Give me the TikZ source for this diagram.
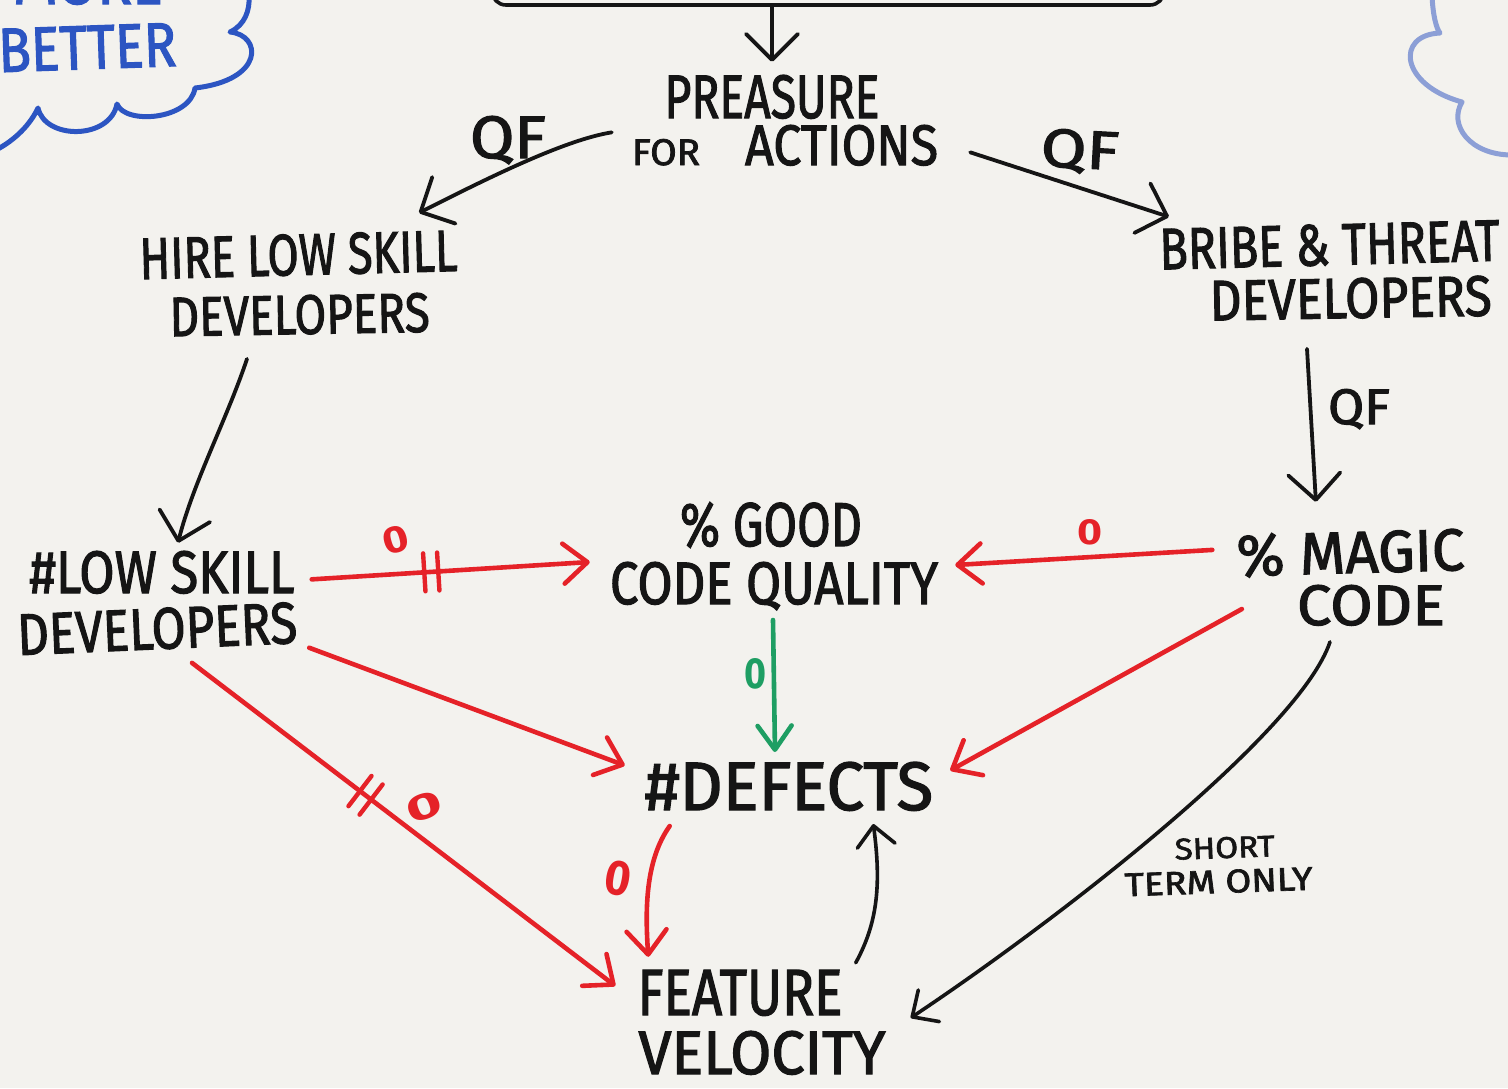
\documentclass[tikz,border=0pt]{standalone}
\usepackage{fontspec}
\setmainfont{Fira Sans}
\newfontfamily\markerfont{Fira Sans}[FakeBold=2]
\usepackage{graphicx}
\usetikzlibrary{arrows.meta,calc,decorations.markings}
\definecolor{board}{HTML}{F3F2EE}
\definecolor{ink}{HTML}{151515}
\definecolor{marker}{HTML}{E52228}
\definecolor{mint}{HTML}{1E9E63}
\definecolor{cloudA}{HTML}{2C55C2}
\definecolor{cloudB}{HTML}{8C9FD6}
% handwritten-style label: text stretched to a given width and cap height
\newcommand{\hw}[3]{\resizebox{#1pt}{#2pt}{#3}}
\begin{document}
\begin{tikzpicture}[x=1pt,y=-1pt,
  lbl/.style={inner sep=0pt, anchor=base, text=ink, font=\markerfont},
  zero/.style={inner sep=0pt, anchor=center, font=\bfseries},
  blkbig/.style={draw=ink, line width=3.8pt, line cap=round, line join=round,
     -{Straight Barb[length=26pt,width=52pt,round]}},
  blksmall/.style={draw=ink, line width=3.6pt, line cap=round, line join=round,
     -{Straight Barb[length=20pt,width=38pt,round]}},
  redarrow/.style={draw=marker, line width=4.6pt, line cap=round, line join=round,
     -{Straight Barb[length=24pt,width=40pt,round]}},
  greenarrow/.style={draw=mint, line width=4.6pt, line cap=round, line join=round,
     -{Straight Barb[length=24pt,width=34pt,round]}},
  bars/.style={postaction={decorate,decoration={markings,
     mark=at position #1 with {\draw[marker,line width=4.4pt,line cap=round,-]
        (-7pt,-19pt)--(-7pt,19pt) (7pt,-19pt)--(7pt,19pt);}}}},
  cloudline/.style={line width=5pt, line cap=round, line join=round}
]
\useasboundingbox (0,0) rectangle (1508,1088);
\clip (0,0) rectangle (1508,1088);
\fill[board] (0,0) rectangle (1508,1088);

% thought clouds at the top corners
\draw[cloudline, cloudA] (249,-4) .. controls (250,10) and (245,25) .. (230,32)
  .. controls (262,35) and (265,80) .. (195,88)
  .. controls (190,120) and (125,125) .. (117,104)
  .. controls (110,140) and (45,140) .. (38,108)
  .. controls (30,125) and (15,140) .. (-4,150);
\node[lbl, text=cloudA] (more) at (88,4) {\hw{150}{43}{MORE}};
\node[lbl, text=cloudA, rotate=2] (better) at (88,69) {\hw{178}{43}{BETTER}};

\draw[cloudline, cloudB] (1432,-4) .. controls (1433,15) and (1436,28) .. (1440,33)
  .. controls (1395,35) and (1400,85) .. (1462,102)
  .. controls (1448,125) and (1470,155) .. (1512,155);

% box at the top edge
\node[draw=ink, line width=3.6pt, rounded corners=14pt, minimum width=672pt,
      minimum height=220pt, inner sep=0pt] (topbox) at (828,-105) {};

% labels
\node[lbl] (pre) at (772,118) {\hw{215}{43}{PREASURE}};
\node[lbl] (forac) at (785,165) {\hw{68}{26}{FOR}\hspace{45pt}\hw{193}{40}{ACTIONS}};
\node[lbl] (qfl) at (508,158) {\hw{76}{42}{QF}};
\node[lbl, rotate=-3] (qfr) at (1079,168) {\hw{78}{38}{QF}};
\node[lbl, rotate=1.5] (hire1) at (299,275) {\hw{318}{41}{HIRE LOW SKILL}};
\node[lbl, rotate=1] (hire2) at (300,334) {\hw{260}{39}{DEVELOPERS}};
\node[lbl] (low1) at (162,593) {\hw{265}{42}{\#LOW SKILL}};
\node[lbl, rotate=2.5] (low2) at (158,649) {\hw{280}{41}{DEVELOPERS}};
\node[lbl, rotate=1.5] (bribe1) at (1330,265) {\hw{340}{41}{BRIBE \& THREAT}};
\node[lbl, rotate=1] (bribe2) at (1351,318) {\hw{282}{40}{DEVELOPERS}};
\node[lbl] (qfv) at (1359,424) {\hw{62}{35}{QF}};
\node[lbl, rotate=1.5] (magic1) at (1351,573) {\hw{228}{42}{\% MAGIC}};
\node[lbl] (magic2) at (1371,625) {\hw{148}{40}{CODE}};
\node[lbl] (good1) at (771,546) {\hw{182}{44}{\% GOOD}};
\node[lbl] (code) at (774,604) {\hw{328}{42}{CODE QUALITY}};
\node[lbl] (def) at (789,810) {\hw{288}{48}{\#DEFECTS}};
\node[lbl] (feat1) at (740,1015) {\hw{205}{45}{FEATURE}};
\node[lbl] (feat2) at (762,1074) {\hw{247}{43}{VELOCITY}};
\node[lbl, rotate=2] (short1) at (1225,858) {\hw{100}{21}{SHORT}};
\node[lbl, rotate=2] (short2) at (1219,893) {\hw{188}{23}{TERM ONLY}};

% polarity marks
\node[zero, text=marker, rotate=15] (z1) at (396,540) {\hw{26}{26}{0}};
\node[zero, text=marker] (z2) at (1090,532) {\hw{25}{25}{0}};
\node[zero, text=mint] (z3) at (755,674) {\hw{22}{30}{0}};
\node[zero, text=marker, rotate=20] (z4) at (424,807) {\hw{36}{25}{0}};
\node[zero, text=marker, rotate=-10] (z5) at (618,878) {\hw{26}{34}{0}};

% black connectors
\draw[blkbig] (topbox.south -| pre.north) -- ([yshift=13pt]pre.north);
\draw[blkbig] ([xshift=-20pt,yshift=13pt]forac.west)
  .. controls +(-50,8) and +(60,-30) .. ([xshift=121pt,yshift=21pt]hire1.north);
\draw[blkbig] ([xshift=32pt,yshift=-7pt]forac.east) -- ([xshift=-160pt,yshift=7pt]bribe1.north);
\draw[blkbig] ([xshift=-53pt,yshift=-24pt]hire2.south)
  .. controls +(-20,60) and +(15,-60) .. ([xshift=16pt,yshift=8pt]low1.north);
\draw[blkbig] ([xshift=-44pt,yshift=-30pt]bribe2.south) -- ([xshift=-34pt,yshift=29pt]magic1.north);
\draw[blksmall] ([xshift=-41pt,yshift=-16pt]magic2.south)
  .. controls +(-30,90) and +(150,-100) .. ([xshift=25pt,yshift=35pt]feat2.east);
\draw[blksmall] ([xshift=13pt,yshift=7pt]feat1.north east)
  .. controls +(22,-40) and +(8,60) .. ([xshift=-60pt,yshift=-13pt]def.south east);

% red and green connectors
\draw[redarrow, bars=0.43] ([xshift=17pt,yshift=-7pt]low1.east) -- ([xshift=-20pt,yshift=42pt]code.base west);
\draw[redarrow] ([xshift=-24pt,yshift=6pt]magic1.west) -- ([xshift=17pt,yshift=39pt]code.base east);
\draw[greenarrow] ([xshift=-1pt,yshift=-16pt]code.base) -- ([xshift=-14pt,yshift=58pt]def.base);
\draw[redarrow] ([xshift=12pt,yshift=-25pt]low2.east) -- ([xshift=-20pt,yshift=21pt]def.west);
\draw[redarrow] ([xshift=5pt,yshift=-31pt]magic1.south west) -- ([xshift=17pt,yshift=16pt]def.east);
\draw[redarrow, bars=0.41] ([xshift=34pt,yshift=-13pt]low2.south) -- ([xshift=-22pt,yshift=7pt]feat1.west);
\draw[redarrow] ([xshift=25pt,yshift=-15pt]def.south west)
  .. controls +(-25,35) and +(-3,-45) .. ([xshift=11pt,yshift=13pt]feat1.north west);
\end{tikzpicture}
\end{document}
